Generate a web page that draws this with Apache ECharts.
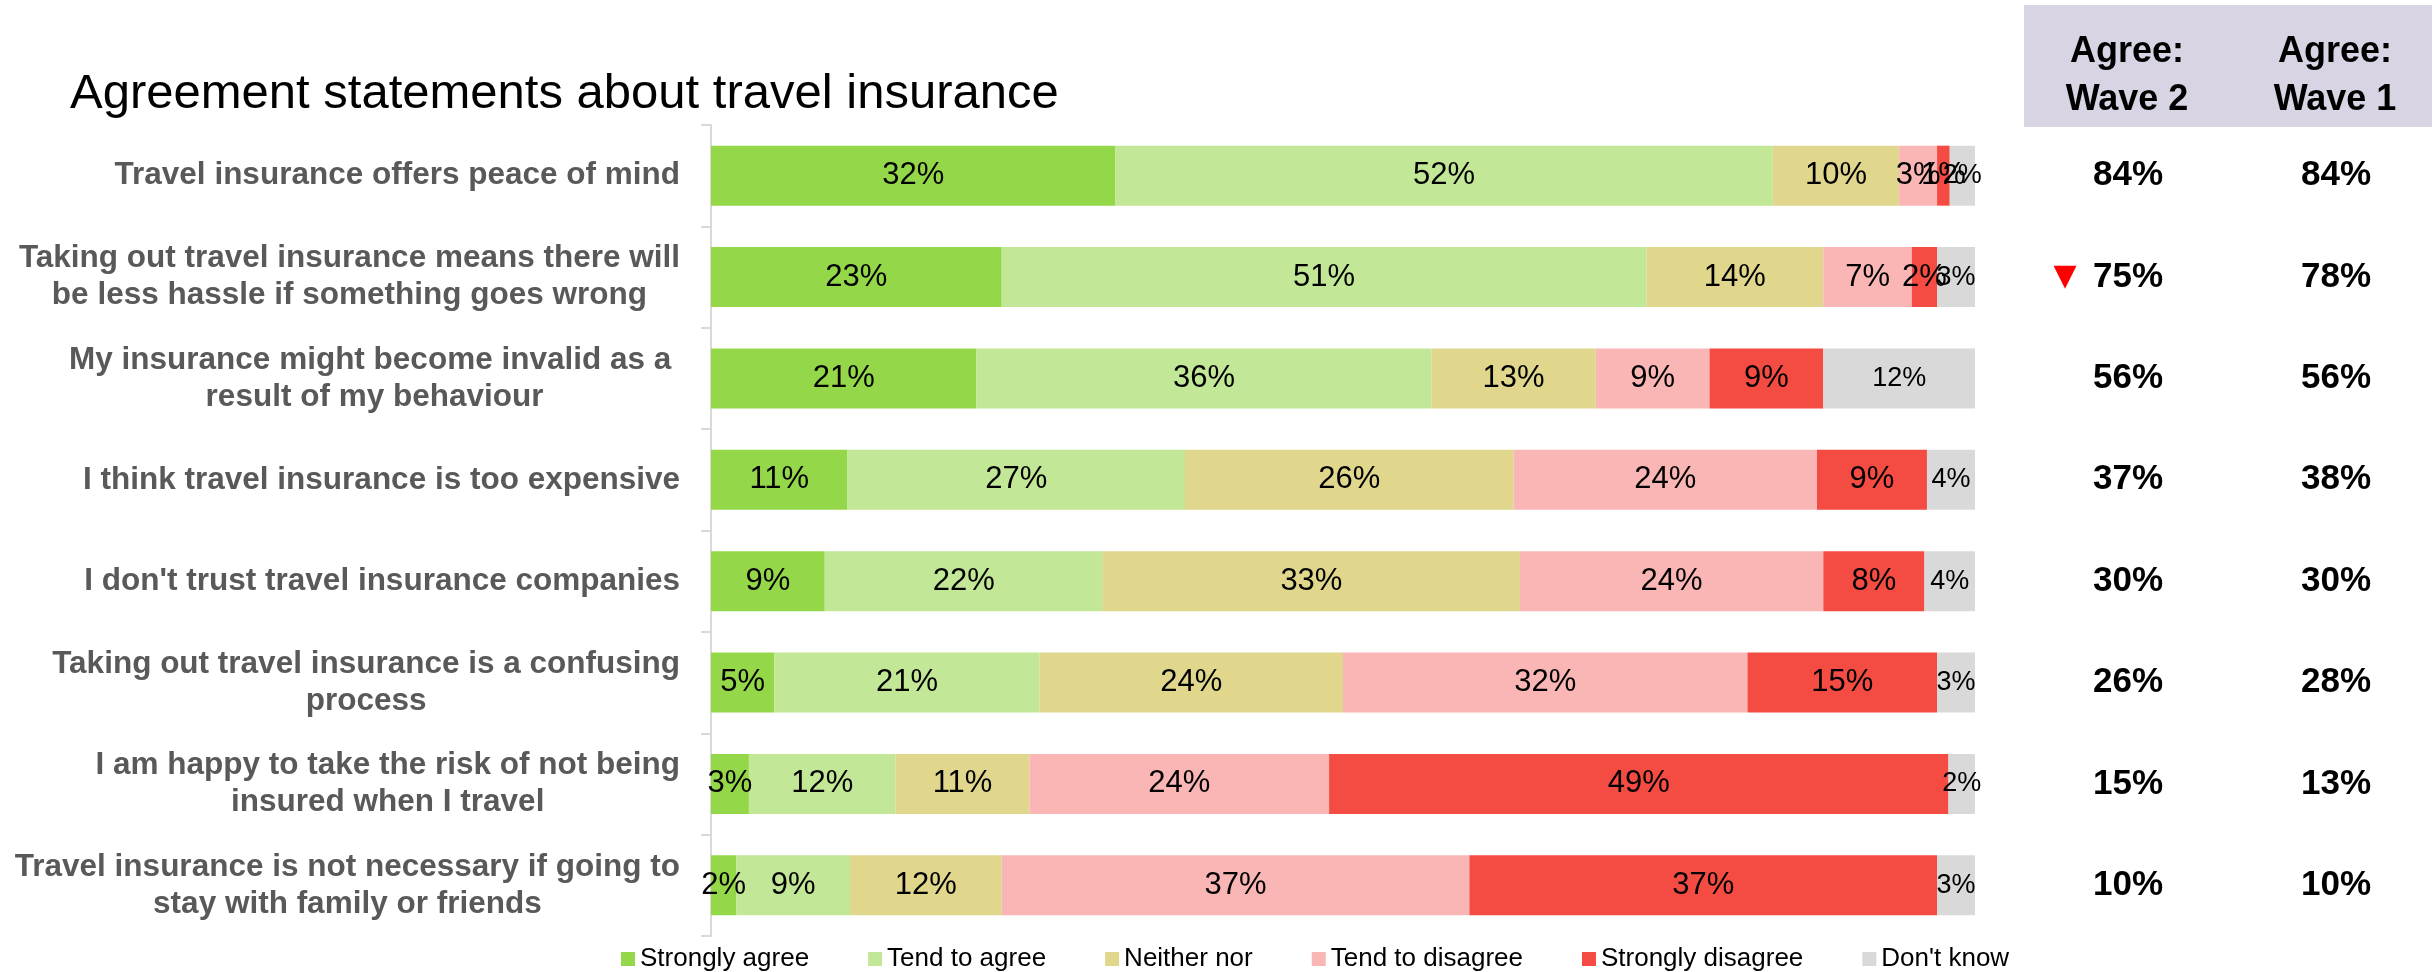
<!DOCTYPE html>
<html><head><meta charset="utf-8">
<script src="https://cdn.jsdelivr.net/npm/echarts@6/dist/echarts.min.js"></script>
<style>html,body{margin:0;padding:0;background:#fff}#chart{width:2432px;height:972px}</style>
</head><body><div id="chart"></div>
<script>
const chartTitle = 'Agreement statements about travel insurance';
const categories = [
  'Travel insurance offers peace of mind',
  'Taking out travel insurance means there will\nbe less hassle if something goes wrong',
  'My insurance might become invalid as a \nresult of my behaviour',
  'I think travel insurance is too expensive',
  "I don't trust travel insurance companies",
  'Taking out travel insurance is a confusing\nprocess',
  'I am happy to take the risk of not being\ninsured when I travel',
  'Travel insurance is not necessary if going to\nstay with family or friends'
];
const seriesNames = ['Strongly agree', 'Tend to agree', 'Neither nor', 'Tend to disagree', 'Strongly disagree', "Don't know"];
const stronglyAgree   = [32, 23, 21, 10.8, 9, 5, 3.0, 2];
const tendToAgree     = [52, 51, 36, 26.7, 22, 21, 11.6, 9];
const neitherNor      = [10, 14, 13, 26.0, 33, 24, 10.6, 12];
const tendToDisagree  = [3, 7, 9, 24.0, 24, 32, 23.7, 37];
const stronglyDisagree= [1, 2, 9, 8.7, 8, 15, 49.0, 37];
const dontKnow        = [2, 3, 12, 3.8, 4, 3, 2.1, 3];
const agreeWave2 = [84, 75, 56, 37, 30, 26, 15, 10];
const agreeWave1 = [84, 78, 56, 38, 30, 28, 13, 10];
const changeFlag = ['', 'down', '', '', '', '', '', ''];
const columnHeaders = ['Agree:\nWave 2', 'Agree:\nWave 1'];
const colors = ['#94D84A', '#C2E796', '#E0D78D', '#F9B6B4', '#F44B42', '#D9D9D9'];

const seriesValues = [stronglyAgree, tendToAgree, neitherNor, tendToDisagree, stronglyDisagree, dontKnow];

const chart = echarts.init(document.getElementById('chart'));

const catFont = 'Liberation Sans';
const series = seriesNames.map((name, i) => ({
  name: name,
  type: 'bar',
  stack: 'total',
  xAxisIndex: 0,
  yAxisIndex: 0,
  barWidth: 60,
  data: seriesValues[i],
  itemStyle: { color: colors[i] },
  label: {
    show: true,
    position: 'inside',
    color: '#000',
    fontFamily: 'Liberation Sans',
    fontSize: i === 5 ? 27 : 31,
    formatter: p => Math.round(p.value) + '%'
  },
  emphasis: { disabled: true }
}));

const rightAxis = (margin, fmt, style) => ({
  type: 'category',
  data: categories,
  inverse: true,
  position: 'right',
  offset: 0,
  axisLine: { show: false },
  axisTick: { show: false },
  splitLine: { show: false },
  axisLabel: Object.assign({
    margin: margin,
    align: 'center',
    formatter: fmt
  }, style)
});

const headerStyle = (text) => ({
  text: text, align: 'center', verticalAlign: 'middle', textAlign: 'center', textVerticalAlign: 'middle',
  fontFamily: catFont, fontWeight: 'bold', fontSize: 36, lineHeight: 48, fill: '#000'
});

const option = {
  backgroundColor: '#fff',
  animation: false,
  title: {
    text: chartTitle,
    left: 70,
    top: 70,
    padding: 0,
    textStyle: { fontFamily: 'Liberation Sans', fontWeight: 'normal', fontSize: 49, color: '#000' }
  },
  legend: {
    data: seriesNames,
    left: 621,
    top: 946,
    icon: 'rect',
    itemWidth: 14,
    itemHeight: 14,
    itemGap: 59,
    padding: 0,
    textStyle: { fontFamily: 'Liberation Sans', fontSize: 26, color: '#000' }
  },
  grid: { left: 711, right: 457, top: 125, height: 811, containLabel: false },
  xAxis: { type: 'value', min: 0, max: 100, show: false },
  yAxis: [
    {
      type: 'category',
      data: categories,
      inverse: true,
      axisLine: { show: true, lineStyle: { color: '#D9D9D9', width: 2 } },
      axisTick: { show: true, length: 10, lineStyle: { color: '#D9D9D9', width: 2 } },
      axisLabel: {
        margin: 31,
        formatter: v => v.split('\n').map(l => '{c|' + l + '}').join('\n'),
        rich: {
          c: { align: 'center', fontFamily: catFont, fontWeight: 'bold', fontSize: 31.5, color: '#595959', lineHeight: 37 }
        }
      }
    },
    rightAxis(153, (v, i) => agreeWave2[i] + '%', { fontFamily: catFont, fontWeight: 'bold', fontSize: 35, color: '#000' }),
    rightAxis(361, (v, i) => agreeWave1[i] + '%', { fontFamily: catFont, fontWeight: 'bold', fontSize: 35, color: '#000' }),
    rightAxis(90, (v, i) => changeFlag[i] === 'down' ? '▼' : (changeFlag[i] === 'up' ? '▲' : ''), { fontFamily: 'DejaVu Sans', fontSize: 30, color: '#FF0000' })
  ],
  graphic: [
    { type: 'rect', shape: { x: 2024, y: 5, width: 408, height: 122 }, style: { fill: '#D8D4E4' }, z: 0 },
    { type: 'text', x: 2127, y: 76, style: headerStyle(columnHeaders[0]), z: 1 },
    { type: 'text', x: 2335, y: 76, style: headerStyle(columnHeaders[1]), z: 1 }
  ],
  series: series
};
chart.setOption(option);
</script>
</body></html>
